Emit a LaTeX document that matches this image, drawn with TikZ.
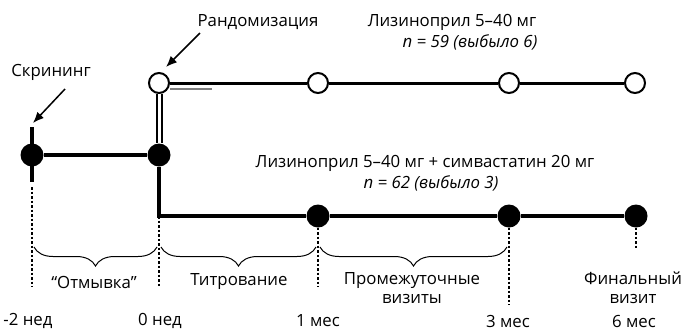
\documentclass[tikz,border=0pt]{standalone}
\usepackage{fontspec}
\setmainfont{Open Sans}
\usetikzlibrary{arrows.meta,decorations.pathreplacing,positioning}

\begin{document}
\begin{tikzpicture}[x=1pt, y=-1pt,
             every node/.style={font=\fontsize{16.8}{19}\selectfont, inner sep=0pt},
             full/.style={circle, fill=black, minimum size=23pt},
             open/.style={circle, draw, line width=2pt, fill=white, minimum size=20pt},
             heavy/.style={line width=4.5pt},
             light/.style={line width=3pt},
             dots/.style={line width=2.5pt, dash pattern=on 2.5pt off 2pt},
             pointer/.style={-{Latex[length=11pt,width=9pt]}, line width=1.5pt},
             brace/.style={decorate, decoration={brace, mirror, amplitude=19pt}, line width=1pt}]
\useasboundingbox (0,0) rectangle (687,330);

% bar at screening
\coordinate (bartop) at (32,127);
\coordinate (barbot) at (32,182);
\draw [heavy] (bartop) -- (barbot);

\node [full] (scr) at (32,155) {};
\node [full] (w0) at (159,155) {};
\node [open] (rnd) at (159,83) {};

% top arm
\node [open] (t1) at (318,83) {};
\node [open] (t3) at (509,83) {};
\node [open] (t6) at (635,83) {};

% bottom arm
\coordinate (corner) at (159,216);
\node [full] (b1) at (318,216) {};
\node [full] (b3) at (509,216) {};
\node [full] (b6) at (636,216) {};

\draw [heavy] (scr) -- (w0);
\draw [double, double distance=3pt, line width=2pt] (rnd) -- (w0);
\draw [gray, line width=1.5pt] (170,89) -- (212,89);
\draw [light] (rnd) -- (t1) -- (t3) -- (t6);
\draw [heavy] (w0.south) -- (corner) -- (b1) -- (b3) -- (b6);

% time marks
\coordinate (d0) at (32,287);
\coordinate (d1) at (159,287);
\coordinate (d2) at (318,287);
\coordinate (d3) at (509,305);
\coordinate (d4) at (636,249);
\draw [dots] (32,187) -- (d0);
\draw [dots] (corner) -- (d1);
\draw [dots] (b1) -- (d2);
\draw [dots] (b3) -- (d3);
\draw [dots] (b6) -- (d4);

\draw [brace] (34,247) -- (157,247);
\draw [brace] (161,247) -- (316,247);
\draw [brace] (320,247) -- (507,247);

\node (wash) at (94,282) {“Отмывка”};
\node (titr) at (239,282) {Титрование};
\node [align=center] (mid) at (412,288) {Промежуточные\\визиты};
\node [align=center] (fin) at (633,288) {Финальный\\визит};

\node (l0) at (28,321) {-2 нед};
\node (l1) at (160,321) {0 нед};
\node (l2) at (318,321) {1 мес};
\node (l3) at (508,321) {3 мес};
\node (l4) at (634,321) {6 мес};

% labels and pointers
\node (scrlbl) at (51,72) {Скрининг};
\node (rndlbl) at (258,22) {Рандомизация};
\coordinate (p1) at (65,89);
\coordinate (p2) at (33,123);
\coordinate (p3) at (200,33);
\coordinate (p4) at (166,67);
\draw [pointer] (p1) -- (p2);
\draw [pointer] (p3) -- (p4);

\node (arm1) at (452,22) {Лизиноприл 5–40 мг};
\node (n1) at (470,42) {\itshape n = 59 (выбыло 6)};
\node (arm2) at (425,163) {Лизиноприл 5–40 мг + симвастатин 20 мг};
\node (n2) at (431,183) {\itshape n = 62 (выбыло 3)};

\end{tikzpicture}
\end{document}
